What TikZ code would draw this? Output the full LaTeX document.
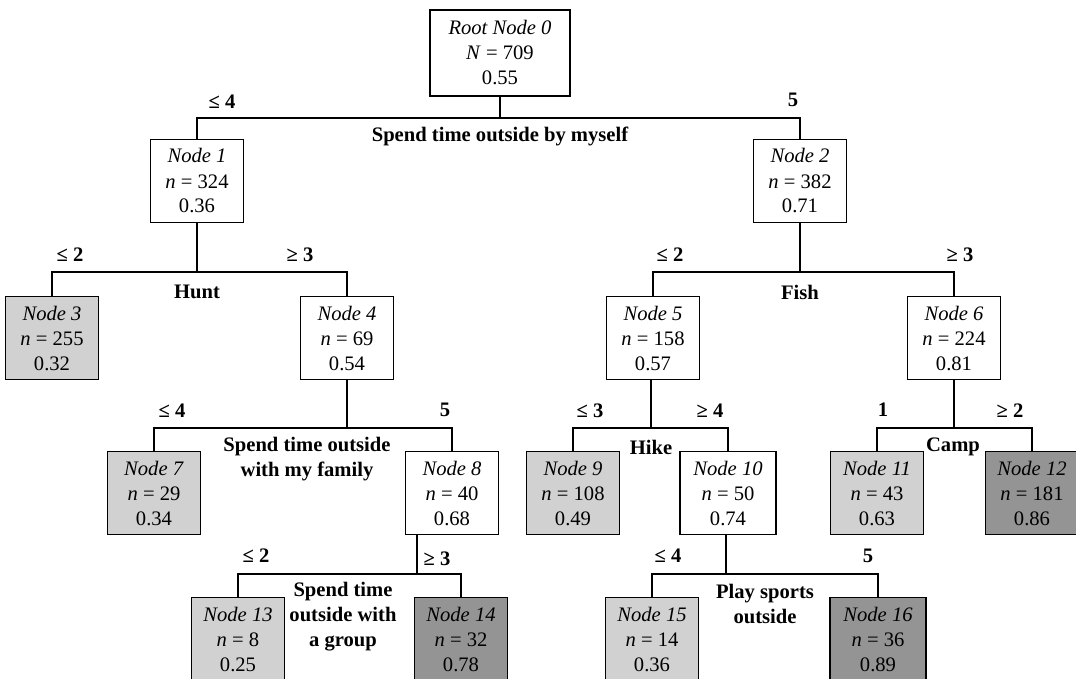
\documentclass[tikz,border=0pt]{standalone}
\usepackage{fontspec}
\setmainfont{Liberation Serif}
\begin{document}
\begin{tikzpicture}[x=0.5pt, y=-0.5pt, line width=0.6pt,
	every node/.style={font=\fontsize{10.3}{12.5}\selectfont},
	box/.style={draw, align=center, minimum width=46.5pt, minimum height=41.5pt, inner sep=0pt},
	lite/.style={box, fill=black!18},
	dark/.style={box, fill=black!42},
	split/.style={font=\fontsize{10.3}{12.5}\selectfont\bfseries, align=center},
	branch/.style={font=\fontsize{10.3}{12.5}\selectfont\bfseries}]
	\useasboundingbox (0,0) rectangle (1076,679);
	
	% 节点
	\node[box, minimum width=70pt, minimum height=43pt] (n0) at (500,53) {\textit{Root Node 0}\\\textit{N} = 709\\0.55};
	\node[box] (n1) at (197,181) {\textit{Node 1}\\\textit{n} = 324\\0.36};
	\node[box] (n2) at (800,181) {\textit{Node 2}\\\textit{n} = 382\\0.71};
	\node[lite] (n3) at (52,338) {\textit{Node 3}\\\textit{n} = 255\\0.32};
	\node[box] (n4) at (347,338) {\textit{Node 4}\\\textit{n} = 69\\0.54};
	\node[box] (n5) at (653,338) {\textit{Node 5}\\\textit{n} = 158\\0.57};
	\node[box] (n6) at (954,338) {\textit{Node 6}\\\textit{n} = 224\\0.81};
	\node[lite] (n7) at (154,493) {\textit{Node 7}\\\textit{n} = 29\\0.34};
	\node[box] (n8) at (452,493) {\textit{Node 8}\\\textit{n} = 40\\0.68};
	\node[lite] (n9) at (573,493) {\textit{Node 9}\\\textit{n} = 108\\0.49};
	\node[box, minimum width=48pt] (n10) at (728,493) {\textit{Node 10}\\\textit{n} = 50\\0.74};
	\node[lite] (n11) at (877,493) {\textit{Node 11}\\\textit{n} = 43\\0.63};
	\node[dark] (n12) at (1032,493) {\textit{Node 12}\\\textit{n} = 181\\0.86};
	\node[lite] (n13) at (238,639) {\textit{Node 13}\\\textit{n} = 8\\0.25};
	\node[dark] (n14) at (461,639) {\textit{Node 14}\\\textit{n} = 32\\0.78};
	\node[lite] (n15) at (652,639) {\textit{Node 15}\\\textit{n} = 14\\0.36};
	\node[dark, minimum width=48pt] (n16) at (878,639) {\textit{Node 16}\\\textit{n} = 36\\0.89};
	
	% 分叉横线
	\coordinate (b0) at (500,118);
	\coordinate (b1) at (197,272);
	\coordinate (b2) at (800,272);
	\coordinate (b4) at (347,428);
	\coordinate (b5) at (651,428);
	\coordinate (b6) at (954,428);
	\coordinate (b8) at (417,574);
	\coordinate (b10) at (726,574);
	
	\draw (n0.south) -- (b0);  \draw (n1.north) |- (b0) -| (n2.north);
	\draw (n1.south) -- (b1);  \draw (n3.north) |- (b1) -| (n4.north);
	\draw (n2.south) -- (b2);  \draw (n5.north) |- (b2) -| (n6.north);
	\draw (n4.south) -- (b4);  \draw (n7.north) |- (b4) -| (n8.north);
	\draw (b5 |- n5.south) -- (b5);  \draw (n9.north) |- (b5) -| (n10.north);
	\draw (n6.south) -- (b6);  \draw (n11.north) |- (b6) -| (n12.north);
	\draw (b8 |- n8.south) -- (b8);  \draw (n13.north) |- (b8) -| (n14.north);
	\draw (b10 |- n10.south) -- (b10);  \draw (n15.north) |- (b10) -| (n16.north);
	
	% 分裂变量
	\node[split] (q0) at (500,136) {Spend time outside by myself};
	\node[split] (q1) at (197,292) {Hunt};
	\node[split] (q2) at (800,292) {Fish};
	\node[split] (q4) at (307,459) {Spend time outside\\with my family};
	\node[split] (q5) at (651,447) {Hike};
	\node[split] (q6) at (953,447) {Camp};
	\node[split] (q8) at (343,617) {Spend time\\outside with\\a group};
	\node[split] (q10) at (765,604) {Play sports\\outside};
	
	% 分支取值
	\node[branch] (c1) at (222,102) {≤ 4};
	\node[branch] (c2) at (793,100) {5};
	\node[branch] (c3) at (70,255) {≤ 2};
	\node[branch] (c4) at (300,255) {≥ 3};
	\node[branch] (c5) at (670,255) {≤ 2};
	\node[branch] (c6) at (960,255) {≥ 3};
	\node[branch] (c7) at (172,411) {≤ 4};
	\node[branch] (c8) at (445,410) {5};
	\node[branch] (c9) at (590,411) {≤ 3};
	\node[branch] (c10) at (710,411) {≥ 4};
	\node[branch] (c11) at (883,410) {1};
	\node[branch] (c12) at (1010,411) {≥ 2};
	\node[branch] (c13) at (256,556) {≤ 2};
	\node[branch] (c14) at (437,559) {≥ 3};
	\node[branch] (c15) at (668,556) {≤ 4};
	\node[branch] (c16) at (868,556) {5};
\end{tikzpicture}
\end{document}
